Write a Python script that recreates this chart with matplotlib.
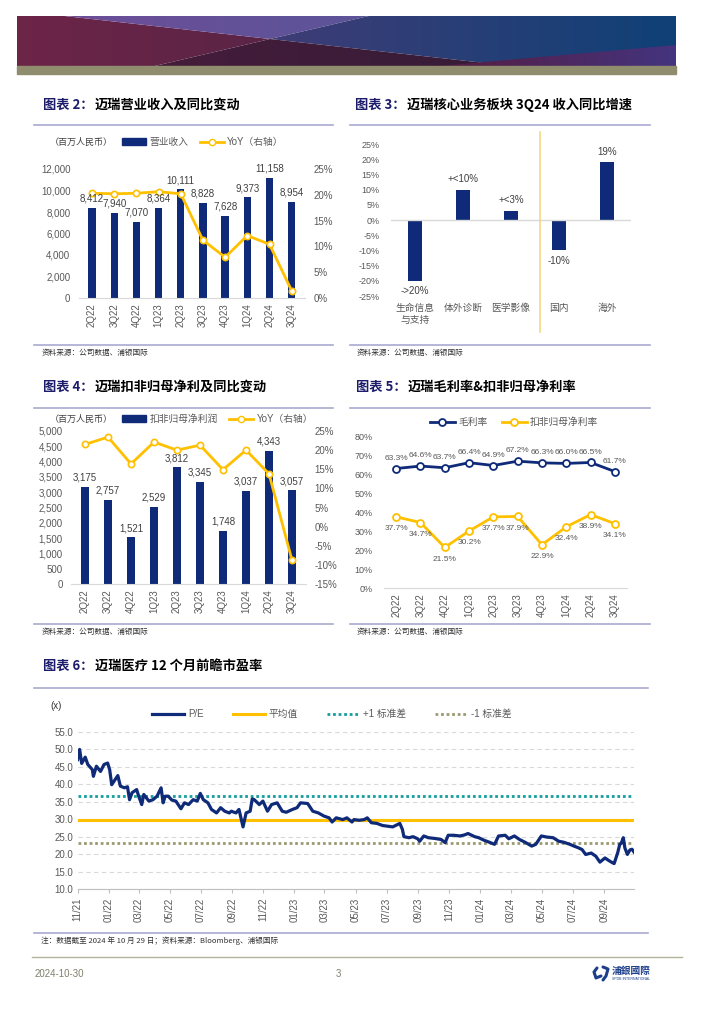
import numpy as np
import pandas as pd
import matplotlib
matplotlib.use("Agg")
import matplotlib.pyplot as plt
import matplotlib.dates as mdates
from matplotlib.patches import Polygon, Rectangle, Patch
from matplotlib.lines import Line2D
from matplotlib.colors import LinearSegmentedColormap
from matplotlib.ticker import FuncFormatter

plt.rcParams["font.family"] = ["Liberation Sans", "Noto Sans CJK SC"]
plt.rcParams["axes.unicode_minus"] = False

NAVY = "#0e2a78"
GOLD = "#ffc000"
GREY = "#595959"
CJK = ["Noto Sans CJK SC"]

# ---- data ----
quarters = ["2Q22", "3Q22", "4Q22", "1Q23", "2Q23", "3Q23", "4Q23", "1Q24", "2Q24", "3Q24"]
revenue = [8412, 7940, 7070, 8364, 10111, 8828, 7628, 9373, 11158, 8954]
revenue_yoy = [20.3, 20.2, 20.3, 20.6, 20.2, 11.2, 7.9, 12.1, 10.4, 1.4]
profit = [3175, 2757, 1521, 2529, 3812, 3345, 1748, 3037, 4343, 3057]
profit_yoy = [21.5, 23.4, 16.4, 22.1, 20.0, 21.3, 14.9, 20.0, 13.8, -8.8]
gross_margin = [63.3, 64.6, 63.7, 66.4, 64.9, 67.2, 66.3, 66.0, 66.5, 61.7]
net_margin = [37.7, 34.7, 21.5, 30.2, 37.7, 37.9, 22.9, 32.4, 38.9, 34.1]

seg_names = ["生命信息\n与支持", "体外诊断", "医学影像", "国内", "海外"]
seg_growth = [-20, 10, 3, -10, 19]
seg_labels = ["->20%", "+<10%", "+<3%", "-10%", "19%"]

pe_dates = [
    "2021-11-01", "2021-11-05", "2021-11-09", "2021-11-16", "2021-11-21", "2021-11-30", "2021-12-02", "2021-12-08", "2021-12-16", "2021-12-23",
    "2021-12-30", "2022-01-03", "2022-01-07", "2022-01-14", "2022-01-19", "2022-01-24", "2022-02-01", "2022-02-07", "2022-02-11", "2022-02-16",
    "2022-02-25", "2022-03-01", "2022-03-07", "2022-03-11", "2022-03-21", "2022-03-29", "2022-04-06", "2022-04-14", "2022-04-18", "2022-04-22",
    "2022-04-28", "2022-05-05", "2022-05-13", "2022-05-23", "2022-05-30", "2022-06-07", "2022-06-16", "2022-06-24", "2022-06-30", "2022-07-06",
    "2022-07-15", "2022-07-22", "2022-08-01", "2022-08-09", "2022-08-17", "2022-08-26", "2022-08-30", "2022-09-08", "2022-09-14", "2022-09-20",
    "2022-09-22", "2022-09-28", "2022-10-06", "2022-10-10", "2022-10-14", "2022-10-24", "2022-10-31", "2022-11-09", "2022-11-17", "2022-11-28",
    "2022-12-08", "2022-12-16", "2022-12-28", "2023-01-06", "2023-01-13", "2023-01-27", "2023-02-06", "2023-02-17", "2023-02-28", "2023-03-10",
    "2023-03-16", "2023-03-24", "2023-04-06", "2023-04-14", "2023-04-24", "2023-04-28", "2023-05-08", "2023-05-18", "2023-05-24", "2023-06-01",
    "2023-06-12", "2023-06-23", "2023-07-03", "2023-07-13", "2023-07-27", "2023-08-01", "2023-08-04", "2023-08-14", "2023-08-22", "2023-08-31",
    "2023-09-04", "2023-09-12", "2023-09-21", "2023-10-03", "2023-10-16", "2023-10-24", "2023-10-30", "2023-11-10", "2023-11-22", "2023-12-01",
    "2023-12-08", "2023-12-21", "2023-12-29", "2024-01-08", "2024-01-19", "2024-01-29", "2024-02-06", "2024-02-19", "2024-02-26", "2024-03-01",
    "2024-03-08", "2024-03-18", "2024-03-29", "2024-04-11", "2024-04-19", "2024-04-30", "2024-05-10", "2024-05-23", "2024-06-03", "2024-06-13",
    "2024-06-25", "2024-07-03", "2024-07-12", "2024-07-19", "2024-07-26", "2024-08-06", "2024-08-15", "2024-08-23", "2024-09-02", "2024-09-09",
    "2024-09-17", "2024-09-20", "2024-09-27", "2024-10-01", "2024-10-04", "2024-10-08", "2024-10-11", "2024-10-16", "2024-10-21", "2024-10-25",
    "2024-10-29",
]
pe_values = [
    47.1, 50.0, 46.0, 47.8, 45.7, 44.2, 42.3, 45.2, 43.7, 45.7,
    46.1, 44.2, 39.9, 41.4, 42.5, 39.5, 39.0, 39.3, 35.6, 37.6,
    38.5, 36.6, 34.2, 37.1, 35.2, 35.6, 36.6, 39.0, 34.7, 36.6,
    36.6, 35.5, 35.2, 33.0, 34.7, 34.2, 35.6, 35.2, 37.4, 35.6,
    34.7, 32.8, 31.8, 33.3, 32.3, 31.8, 32.3, 31.8, 32.8, 29.0,
    27.8, 31.8, 32.3, 35.8, 35.6, 34.2, 35.2, 32.3, 34.2, 34.7,
    32.3, 32.0, 32.8, 33.3, 34.7, 34.5, 32.3, 31.8, 30.9, 30.4,
    29.2, 30.4, 29.9, 30.4, 29.2, 29.9, 29.7, 29.9, 30.4, 29.0,
    28.8, 28.2, 28.0, 27.8, 28.8, 27.1, 25.0, 24.7, 25.0, 24.4,
    23.7, 25.2, 24.7, 24.5, 24.2, 23.3, 25.4, 25.4, 25.2, 25.5,
    25.9, 25.0, 24.7, 24.0, 23.4, 22.8, 25.2, 25.4, 24.4, 24.7,
    25.2, 24.2, 23.4, 22.3, 22.8, 25.2, 24.9, 24.7, 23.7, 23.4,
    22.8, 22.3, 21.8, 21.3, 19.9, 20.3, 19.4, 17.7, 18.9, 18.2,
    17.5, 17.3, 20.4, 22.8, 23.1, 24.7, 21.8, 19.9, 21.2, 21.4,
    20.6,
]
pe_mean = 29.9
pe_std = 6.7

W, H = 724, 1024


def box(x0, y0, x1, y1):
    return [x0 / W, 1 - y1 / H, (x1 - x0) / W, (y1 - y0) / H]


fig = plt.figure(figsize=(7.24, 10.24), dpi=100)
page = fig.add_axes([0, 0, 1, 1])
page.axis("off")

# ---- header banner ----
bx0, bx1, by0, by1 = 17, 676, 16, 66


def bp(fx, fy):
    return (bx0 + fx * (bx1 - bx0), by1 - fy * (by1 - by0))


def grad_poly(pts, c0, c1):
    pts = [bp(*p) for p in pts]
    xs = [p[0] for p in pts]
    poly = Polygon(pts, closed=True, facecolor="none", edgecolor="none")
    page.add_patch(poly)
    cmap = LinearSegmentedColormap.from_list("g", [c0, c1])
    im = page.imshow(np.linspace(0, 1, 256)[None, :], cmap=cmap, aspect="auto",
                     extent=(min(xs), max(xs), by1, by0), interpolation="bilinear")
    im.set_clip_path(poly)


grad_poly([(0, 0), (0, 1), (0.072, 1), (0.384, 0.54), (0.209, 0)], "#6d2548", "#5a2446")
grad_poly([(0.072, 1), (0.534, 1), (0.384, 0.54)], "#6d4e97", "#5c5499")
grad_poly([(0.384, 0.54), (0.534, 1), (1, 1), (1, 0), (0.751, 0)], "#3f3c76", "#0f4177")
grad_poly([(0.384, 0.54), (0.751, 0), (0.209, 0)], "#451c3b", "#361c37")
grad_poly([(0.64, 0), (1, 0.42), (1, 0)], "#561c40", "#44347f")
page.add_patch(Rectangle((bx0, by1), bx1 - bx0, 8, color="#8f8d6d"))


def title(x, y, num, text):
    t = page.text(x, y, f"图表 {num}：", color="#1c1c6b", fontsize=9.5,
                  fontweight="bold", va="center", family=CJK)
    page.annotate(text, xy=(1, 0.5), xycoords=t, xytext=(1, 0), textcoords="offset points",
                  va="center", ha="left", fontsize=9.5, fontweight="bold", color="black", family=CJK)


def rule(x0, x1, y):
    page.plot([x0, x1], [y, y], color="#a9a9d2", lw=1.2)


def source(x, y, s):
    page.text(x, y, s, fontsize=5.5, color="#333333", va="center", family=CJK)


title(43, 105, 2, "迈瑞营业收入及同比变动")
title(355, 105, 3, "迈瑞核心业务板块 3Q24 收入同比增速")
title(43, 387, 4, "迈瑞扣非归母净利及同比变动")
title(356, 387, 5, "迈瑞毛利率&扣非归母净利率")
title(43, 666, 6, "迈瑞医疗 12 个月前瞻市盈率")
for x0, x1, y in [(34, 333, 125), (350, 650, 125), (34, 333, 345), (350, 650, 345),
                  (34, 333, 408), (350, 650, 408), (34, 333, 624), (350, 650, 624),
                  (34, 648, 688), (34, 648, 933)]:
    rule(x0, x1, y)
for x, y in [(42, 353), (357, 353), (42, 632), (357, 632)]:
    source(x, y, "资料来源：公司数据、浦银国际")
source(41, 941, "注：数据截至 2024 年 10 月 29 日；资料来源：Bloomberg、浦银国际")

# footer
page.plot([32, 682], [957, 957], color="#b5b39c", lw=1)
page.text(35, 974, "2024-10-30", fontsize=7, color="#7f7f6a", va="center")
page.text(336, 974, "3", fontsize=7, color="#7f7f6a", va="center")
page.text(612, 971, "浦銀國際", fontsize=7, color="#1d3f8a", va="center", fontweight="bold", family=CJK)
page.text(612, 979, "SPDB INTERNATIONAL", fontsize=2.5, color="#1d3f8a", va="center")
page.plot([597, 594, 596, 601], [968, 972, 978, 976], color="#1d3f8a", lw=2.2, solid_capstyle="round")
page.plot([603, 608, 606, 603], [967, 969, 976, 980], color="#1d3f8a", lw=2.2, solid_capstyle="round")

page.set_xlim(0, W)
page.set_ylim(H, 0)

x = np.arange(len(quarters))
pct = FuncFormatter(lambda v, p: f"{v:.0f}%")
thousands = FuncFormatter(lambda v, p: f"{v:,.0f}")


def clean(ax, keep_bottom=True):
    for s in ["top", "left", "right"]:
        ax.spines[s].set_visible(False)
    ax.spines["bottom"].set_visible(keep_bottom)
    ax.spines["bottom"].set_color("#d9d9d9")
    ax.set_facecolor("none")
    ax.tick_params(length=0, labelsize=7, colors=GREY, pad=6)


def bar_line(box_rect, vals, yoy, ymax, ystep, rlim, legend_y, bar_label):
    ax = fig.add_axes(box_rect)
    ax.bar(x, vals, width=0.33, color=NAVY, zorder=2)
    ax.set_xlim(-0.6, 9.6)
    ax.set_ylim(0, ymax)
    ax.set_yticks(np.arange(0, ymax + 1, ystep))
    ax.yaxis.set_major_formatter(thousands)
    ax.set_xticks(x)
    ax.set_xticklabels(quarters, rotation=90)
    clean(ax)
    ax.tick_params(axis="x", pad=4)
    axr = ax.twinx()
    axr.plot(x, yoy, color=GOLD, lw=2, marker="o", ms=4.5, mfc="white", mec=GOLD, mew=1.2)
    axr.set_ylim(*rlim)
    axr.set_yticks(np.arange(rlim[0], rlim[1] + 1, 5))
    axr.yaxis.set_major_formatter(pct)
    clean(axr, keep_bottom=False)
    for xi, v in zip(x, vals):
        axr.annotate(f"{v:,}", (xi, rlim[0] + (rlim[1] - rlim[0]) * v / ymax), xytext=(0, 3),
                     textcoords="offset points", ha="center", va="bottom", fontsize=7, color="#404040")
    page.text(50, legend_y, "（百万人民币）", fontsize=6.5, color="#404040", va="center", family=CJK)
    handles = [Patch(color=NAVY), Line2D([], [], color=GOLD, lw=2, marker="o", ms=4.5, mfc="white", mec=GOLD)]
    ax.legend(handles, [bar_label, "YoY（右轴）"], loc="center left",
              bbox_to_anchor=(122 / W, 1 - legend_y / H), bbox_transform=fig.transFigure,
              ncol=2, frameon=False, fontsize=7, handlelength=2.5, handletextpad=0.3,
              columnspacing=1.2, borderpad=0, borderaxespad=0, labelcolor=GREY)
    return ax


# ---- chart 2 ----
bar_line(box(78.7, 169, 305, 298), revenue, revenue_yoy, 12000, 2000, (0, 25), 142, "营业收入")

# ---- chart 4 ----
bar_line(box(71.2, 431, 305.8, 584), profit, profit_yoy, 5000, 500, (-15, 25), 419, "扣非归母净利润")

# ---- chart 3 ----
ax3 = fig.add_axes(box(391, 144, 631, 296))
ax3.bar(np.arange(5), seg_growth, width=0.3, color=NAVY)
ax3.axhline(0, color="#d9d9d9", lw=1)
ax3.set_xlim(-0.5, 4.5)
ax3.set_ylim(-25, 25)
ax3.set_yticks(np.arange(-25, 26, 5))
ax3.yaxis.set_major_formatter(pct)
ax3.set_xticks(np.arange(5))
ax3.set_xticklabels(seg_names, family=CJK, linespacing=1.3)
clean(ax3, keep_bottom=False)
ax3.tick_params(axis="y", labelsize=6.5, pad=8)
ax3.tick_params(axis="x", pad=5)
ax3.axvline(2.6, ymin=-0.24, ymax=1.08, color="#f6d27c", lw=1.1, clip_on=False)
for xi, v, lab in zip(range(5), seg_growth, seg_labels):
    ax3.annotate(lab, (xi, v), xytext=(0, 4 if v > 0 else -4), textcoords="offset points",
                 ha="center", va="bottom" if v > 0 else "top", fontsize=7, color="#404040")

# ---- chart 5 ----
ax5 = fig.add_axes(box(384, 437, 627, 588))
ax5.plot(x, gross_margin, color=NAVY, lw=2, marker="o", ms=5, mfc="white", mec=NAVY, mew=1.3, label="毛利率")
ax5.plot(x, net_margin, color=GOLD, lw=2, marker="o", ms=5, mfc="white", mec=GOLD, mew=1.3, label="扣非归母净利率")
ax5.set_xlim(-0.5, 9.5)
ax5.set_ylim(0, 80)
ax5.set_yticks(np.arange(0, 81, 10))
ax5.yaxis.set_major_formatter(pct)
ax5.set_xticks(x)
ax5.set_xticklabels(quarters, rotation=90)
clean(ax5)
ax5.tick_params(axis="y", labelsize=6.5, pad=8)
ax5.tick_params(axis="x", pad=4)
for xi, v in zip(x, gross_margin):
    ax5.annotate(f"{v:.1f}%", (xi, v), xytext=(0, 5), textcoords="offset points",
                 ha="center", va="bottom", fontsize=6, color=GREY)
for xi, v in zip(x, net_margin):
    ax5.annotate(f"{v:.1f}%", (xi, v), xytext=(0, -6), textcoords="offset points",
                 ha="center", va="top", fontsize=6, color=GREY)
ax5.legend(loc="center", bbox_to_anchor=(514 / W, 1 - 422 / H), bbox_transform=fig.transFigure,
           ncol=2, frameon=False, fontsize=7, handlelength=2.6, handletextpad=0.3,
           columnspacing=1.5, borderpad=0, labelcolor=GREY)

# ---- chart 6 ----
dates = pd.to_datetime(pe_dates)
ax6 = fig.add_axes(box(77.6, 732, 634, 889))
ax6.plot(dates, pe_values, color=NAVY, lw=2.3, zorder=4, label="P/E")
ax6.axhline(pe_mean, color=GOLD, lw=2.2, zorder=3, label="平均值")
ax6.axhline(pe_mean + pe_std, color="#169d9d", lw=2, ls=(0, (1, 1)), zorder=3, label="+1 标准差")
ax6.axhline(pe_mean - pe_std, color="#9b9a72", lw=2, ls=(0, (1, 1)), zorder=3, label="-1 标准差")
ax6.set_xlim(dates[0], dates[-1])
ax6.set_ylim(10, 55)
ax6.set_yticks(np.arange(10, 56, 5))
ax6.yaxis.set_major_formatter(FuncFormatter(lambda v, p: f"{v:.1f}"))
ax6.grid(axis="y", color="#d9d9d9", lw=0.8, ls=(0, (4, 3)))
ax6.set_axisbelow(True)
ax6.xaxis.set_major_locator(mdates.MonthLocator(bymonth=[1, 3, 5, 7, 9, 11]))
ax6.xaxis.set_major_formatter(mdates.DateFormatter("%m/%y"))
clean(ax6)
ax6.spines["bottom"].set_color("#bfbfbf")
ax6.tick_params(axis="x", rotation=90, length=3, color="#bfbfbf", pad=3)
ax6.tick_params(axis="y", pad=3)
page.text(50, 706, "(x)", fontsize=7, color="#333333", va="center")
ax6.legend(loc="center left", bbox_to_anchor=(152 / W, 1 - 714 / H), bbox_transform=fig.transFigure,
           ncol=4, frameon=False, fontsize=7, handlelength=3.3, handletextpad=0.4,
           columnspacing=3.0, borderpad=0, borderaxespad=0, labelcolor=GREY)

fig.savefig("out.png", dpi=100)
